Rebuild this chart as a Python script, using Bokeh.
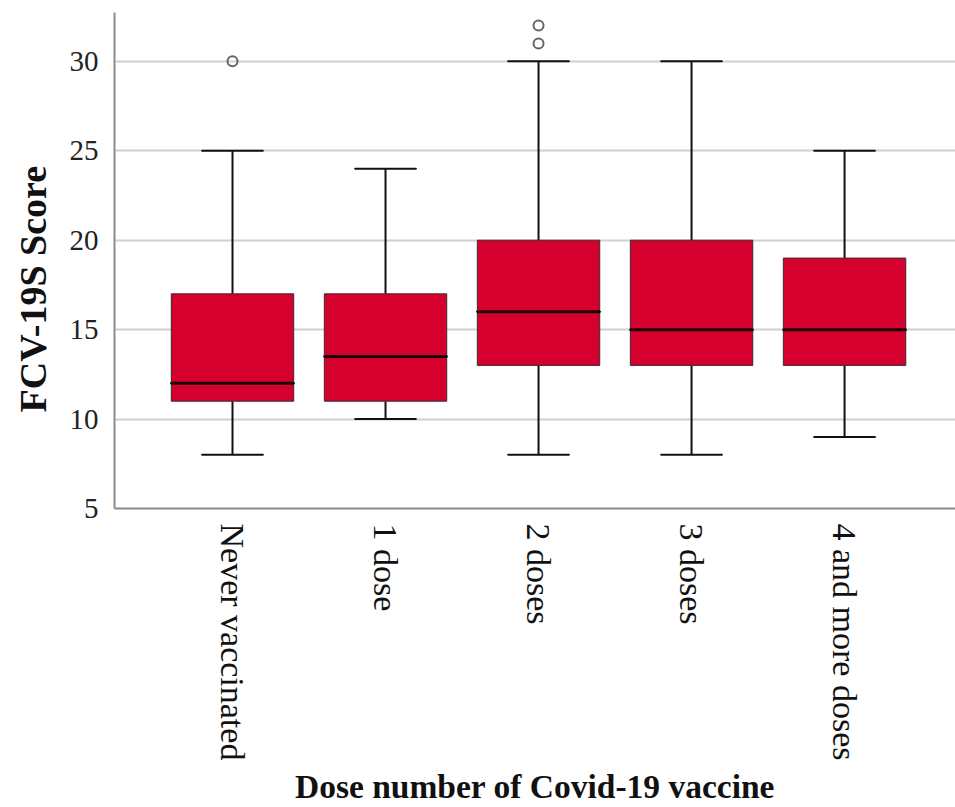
import math
from bokeh.plotting import figure
from bokeh.models import FixedTicker, ColumnDataSource, Range1d, Title
from bokeh.embed import file_html
from bokeh.resources import INLINE

# ---- data ----
categories = ["Never vaccinated", "1 dose", "2 doses", "3 doses", "4 and more doses"]
lower_whisker = [8, 10, 8, 8, 9]
q1 = [11, 11, 13, 13, 13]
median = [12, 13.5, 16, 15, 15]
q3 = [17, 17, 20, 20, 19]
upper_whisker = [25, 24, 30, 30, 25]
outlier_group = [0, 2, 2]
outlier_value = [30, 31, 32]
y_ticks = [5, 10, 15, 20, 25, 30]

xs = [i + 1 for i in range(len(categories))]
src = ColumnDataSource(dict(x=xs, lw=lower_whisker, q1=q1, med=median, q3=q3, uw=upper_whisker))
osrc = ColumnDataSource(dict(x=[g + 1 for g in outlier_group], y=outlier_value))

FONT = "Liberation Serif"

p = figure(width=955, height=807, output_backend="svg", toolbar_location=None,
           x_range=Range1d(0.2288, 5.725), y_range=Range1d(5, 32.73),
           min_border_left=114, min_border_right=0, min_border_top=12, min_border_bottom=298)
p.outline_line_color = None
p.background_fill_color = "white"
p.border_fill_color = "white"

# whiskers
p.segment(x0="x", y0="lw", x1="x", y1="q1", source=src, line_color="#111111", line_width=2)
p.segment(x0="x", y0="q3", x1="x", y1="uw", source=src, line_color="#111111", line_width=2)
p.rect(x="x", y="lw", width=0.4, height=0.0001, source=src, line_color="#111111", line_width=2, fill_color=None)
p.rect(x="x", y="uw", width=0.4, height=0.0001, source=src, line_color="#111111", line_width=2, fill_color=None)
# boxes
p.vbar(x="x", bottom="q1", top="q3", width=0.8, source=src,
       fill_color="#D6002E", line_color="#3a2a2a", line_width=1)
# medians
p.rect(x="x", y="med", width=0.8, height=0.0001, source=src, line_color="#1a0505", line_width=3, fill_color=None)
# outliers
p.scatter(x="x", y="y", source=osrc, marker="circle", size=10, fill_color=None,
          line_color="#666666", line_width=2)

# axes
p.xaxis.ticker = FixedTicker(ticks=xs)
p.xaxis.major_label_overrides = {x: c for x, c in zip(xs, categories)}
p.xaxis.major_label_orientation = -math.pi / 2
p.xaxis.major_label_text_font = FONT
p.xaxis.major_label_text_font_size = "34px"
p.xaxis.major_label_text_color = "#111111"
p.xaxis.major_label_standoff = 9
p.xaxis.axis_label = "Dose number of Covid-19 vaccine"
p.xaxis.axis_label_text_font = FONT
p.xaxis.axis_label_text_font_style = "bold"
p.xaxis.axis_label_text_font_size = "33.5px"
p.xaxis.axis_label_text_color = "#111111"
p.xaxis.axis_label_text_line_height = 1.0
p.xaxis.axis_label_standoff = 4
p.xaxis.major_tick_line_color = None
p.xaxis.minor_tick_line_color = None
p.xaxis.axis_line_color = "#8c8c8c"
p.xaxis.axis_line_width = 2

p.yaxis.ticker = FixedTicker(ticks=y_ticks)
p.yaxis.major_label_text_font = FONT
p.yaxis.major_label_text_font_size = "29px"
p.yaxis.major_label_text_color = "#222222"
p.yaxis.major_label_standoff = 10
p.yaxis.major_tick_line_color = None
p.yaxis.minor_tick_line_color = None
p.yaxis.axis_line_color = "#8c8c8c"
p.yaxis.axis_line_width = 2

# y-axis title (placed lower than centre, as in the reference)
ytitle = Title(text="FCV-19S Score", align="left", offset=96, vertical_align="top",
               text_font=FONT, text_font_style="bold", text_font_size="38px",
               text_color="#111111", standoff=21)
p.add_layout(ytitle, "left")

p.xgrid.grid_line_color = None
p.ygrid.ticker = FixedTicker(ticks=y_ticks)
p.ygrid.grid_line_color = "#d0d0d0"
p.ygrid.grid_line_width = 2

open("out.html", "w").write(file_html(p, INLINE))
